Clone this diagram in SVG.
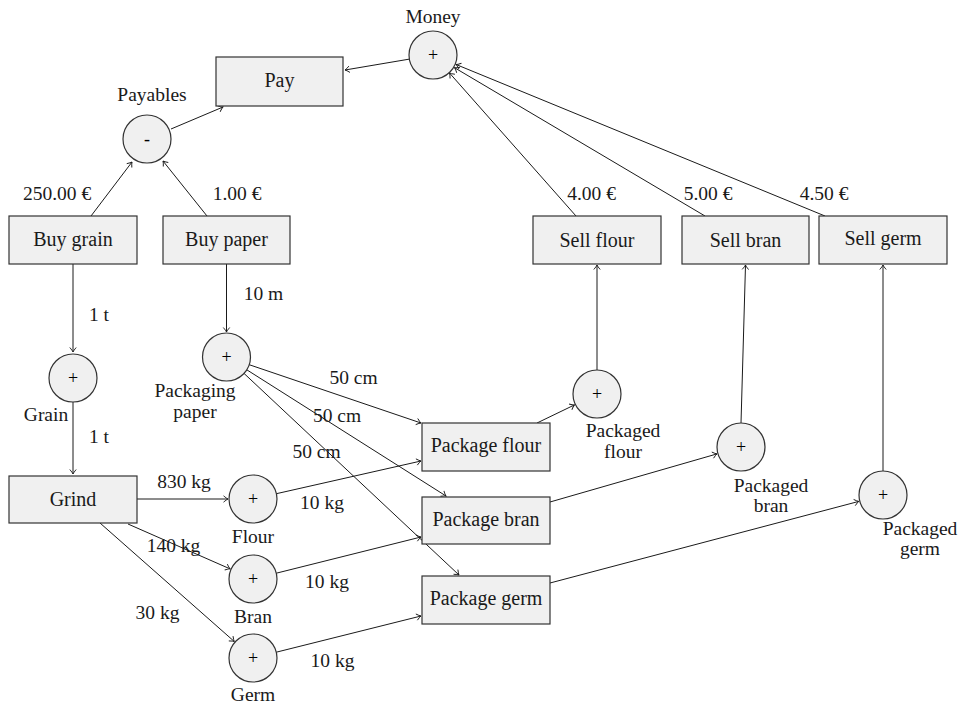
<svg xmlns="http://www.w3.org/2000/svg" width="964" height="705" viewBox="0 0 964 705" font-family="'Liberation Serif', 'DejaVu Serif', serif">
  <style>
    text { font-family: "Liberation Serif", "DejaVu Serif", serif; fill: #1a1a1a; }
    .box rect { fill: #f0f0f0; stroke: #333; stroke-width: 1.2; }
    .box text { font-size: 20px; text-anchor: middle; }
    .pool circle { fill: #f0f0f0; stroke: #333; stroke-width: 1.2; }
    .pool text.sign { font-size: 18px; text-anchor: middle; fill: #000; }
    .lbl { font-size: 19.5px; text-anchor: middle; }
    #connectors line { stroke: #1a1a1a; stroke-width: 1; fill: none; marker-end: url(#arr); }
  </style>
  <defs>
    <marker id="arr" markerUnits="userSpaceOnUse" markerWidth="12" markerHeight="12" refX="0" refY="0" viewBox="-6 -6 12 12" orient="auto" overflow="visible">
      <path d="M -4.5 -3.2 Q -1.5 -0.6 0 0 Q -1.5 0.6 -4.5 3.2" fill="none" stroke="#1a1a1a" stroke-width="0.9"/>
    </marker>
  </defs>

  <!-- connectors -->
  <g id="connectors">
    <line x1="410" y1="59" x2="345" y2="70"/>
    <line x1="171" y1="129" x2="223" y2="107"/>
    <line x1="91" y1="216" x2="132" y2="162"/>
    <line x1="207" y1="216" x2="163" y2="161"/>
    <line x1="576" y1="216" x2="449.5" y2="73"/>
    <line x1="705" y1="216" x2="454.5" y2="67.7"/>
    <line x1="825" y1="216" x2="456.1" y2="64.5"/>
    <line x1="73" y1="264" x2="73" y2="352"/>
    <line x1="73" y1="402" x2="73" y2="474"/>
    <line x1="226.5" y1="264" x2="226.5" y2="332"/>
    <line x1="249.2" y1="364.7" x2="421" y2="423"/>
    <line x1="246.8" y1="369.8" x2="446" y2="496"/>
    <line x1="244" y1="373.4" x2="459" y2="575"/>
    <line x1="137" y1="499" x2="228" y2="499"/>
    <line x1="276.4" y1="493.7" x2="421" y2="461"/>
    <line x1="128" y1="524" x2="230.1" y2="568.9"/>
    <line x1="276.3" y1="573.2" x2="421" y2="537"/>
    <line x1="100" y1="523" x2="234.3" y2="641.5"/>
    <line x1="276.3" y1="652.2" x2="421" y2="616"/>
    <line x1="537" y1="423" x2="574.5" y2="404.9"/>
    <line x1="550" y1="502" x2="717" y2="453.9"/>
    <line x1="550" y1="583" x2="858.8" y2="501.4"/>
    <line x1="597" y1="370" x2="597" y2="265"/>
    <line x1="741" y1="423" x2="745.5" y2="265"/>
    <line x1="883" y1="471" x2="883" y2="265"/>
  </g>

  <!-- connector labels -->
  <g id="edge-labels">
    <text class="lbl" x="57" y="200">250.00 €</text>
    <text class="lbl" x="237" y="200">1.00 €</text>
    <text class="lbl" x="591.5" y="200">4.00 €</text>
    <text class="lbl" x="708" y="200">5.00 €</text>
    <text class="lbl" x="824" y="200">4.50 €</text>
    <text class="lbl" x="99" y="321">1 t</text>
    <text class="lbl" x="99" y="443">1 t</text>
    <text class="lbl" x="263.5" y="300">10 m</text>
    <text class="lbl" x="353.5" y="384">50 cm</text>
    <text class="lbl" x="337" y="422">50 cm</text>
    <text class="lbl" x="316.5" y="458">50 cm</text>
    <text class="lbl" x="184" y="488">830 kg</text>
    <text class="lbl" x="173.5" y="552">140 kg</text>
    <text class="lbl" x="157.5" y="619">30 kg</text>
    <text class="lbl" x="322" y="509">10 kg</text>
    <text class="lbl" x="327" y="588">10 kg</text>
    <text class="lbl" x="332.5" y="667">10 kg</text>
  </g>

  <!-- process boxes -->
  <g id="pay" class="box"><rect x="216" y="57" width="127" height="49"/><text x="279.5" y="87">Pay</text></g>
  <g id="buy-grain" class="box"><rect x="9" y="216" width="128" height="48"/><text x="73" y="246">Buy grain</text></g>
  <g id="buy-paper" class="box"><rect x="163" y="216" width="127" height="48"/><text x="226.5" y="246">Buy paper</text></g>
  <g id="sell-flour" class="box"><rect x="533" y="216" width="128" height="48"/><text x="597" y="247">Sell flour</text></g>
  <g id="sell-bran" class="box"><rect x="682" y="216" width="127" height="48"/><text x="745.5" y="247">Sell bran</text></g>
  <g id="sell-germ" class="box"><rect x="819" y="216" width="128" height="48"/><text x="883" y="245">Sell germ</text></g>
  <g id="grind" class="box"><rect x="9" y="476" width="128" height="47"/><text x="73" y="506">Grind</text></g>
  <g id="package-flour" class="box"><rect x="422" y="423" width="128" height="48"/><text x="486" y="452">Package flour</text></g>
  <g id="package-bran" class="box"><rect x="422" y="497" width="128" height="47"/><text x="486" y="526">Package bran</text></g>
  <g id="package-germ" class="box"><rect x="422" y="576" width="128" height="48"/><text x="486" y="605">Package germ</text></g>

  <!-- stock pools -->
  <g id="money" class="pool"><circle cx="433" cy="55" r="24"/><text class="sign" x="433" y="61">+</text><text class="lbl" x="433" y="23">Money</text></g>
  <g id="payables" class="pool"><circle cx="147" cy="139" r="24"/><text class="sign" x="147" y="145">-</text><text class="lbl" x="152" y="101">Payables</text></g>
  <g id="grain" class="pool"><circle cx="73" cy="378" r="24"/><text class="sign" x="73" y="384">+</text><text class="lbl" x="46" y="421">Grain</text></g>
  <g id="packaging-paper" class="pool"><circle cx="226.5" cy="357" r="24"/><text class="sign" x="226.5" y="363">+</text><text class="lbl" x="195" y="397">Packaging</text><text class="lbl" x="195" y="418">paper</text></g>
  <g id="flour" class="pool"><circle cx="253" cy="499" r="24"/><text class="sign" x="253" y="505">+</text><text class="lbl" x="253" y="543">Flour</text></g>
  <g id="bran" class="pool"><circle cx="253" cy="579" r="24"/><text class="sign" x="253" y="585">+</text><text class="lbl" x="253" y="623">Bran</text></g>
  <g id="germ" class="pool"><circle cx="253" cy="658" r="24"/><text class="sign" x="253" y="664">+</text><text class="lbl" x="253" y="701">Germ</text></g>
  <g id="packaged-flour" class="pool"><circle cx="597" cy="394" r="24"/><text class="sign" x="597" y="400">+</text><text class="lbl" x="623" y="437">Packaged</text><text class="lbl" x="623" y="458">flour</text></g>
  <g id="packaged-bran" class="pool"><circle cx="741" cy="447" r="24"/><text class="sign" x="741" y="453">+</text><text class="lbl" x="771" y="492">Packaged</text><text class="lbl" x="771" y="512">bran</text></g>
  <g id="packaged-germ" class="pool"><circle cx="883" cy="495" r="24"/><text class="sign" x="883" y="501">+</text><text class="lbl" x="920" y="535">Packaged</text><text class="lbl" x="920" y="555">germ</text></g>
</svg>
